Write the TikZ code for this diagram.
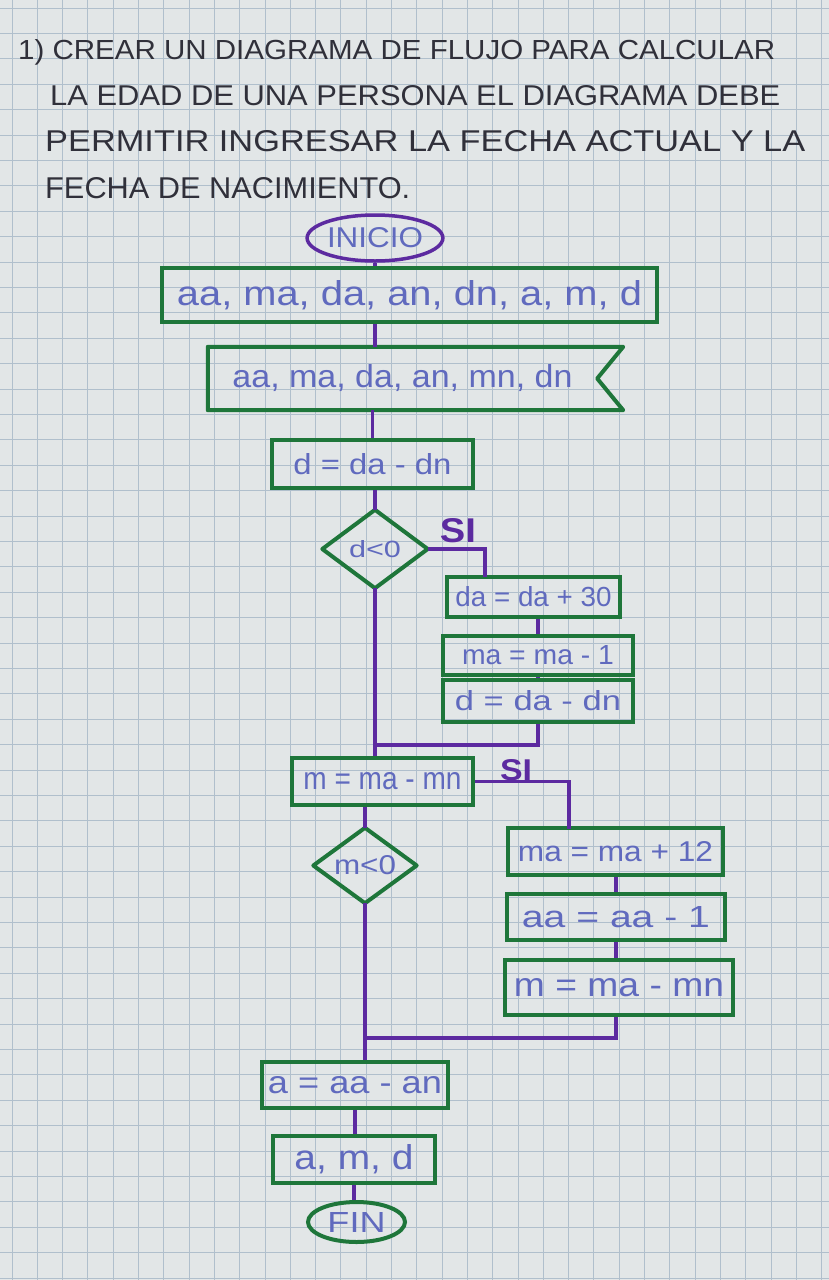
\documentclass[tikz,border=0pt]{standalone}
\usepackage{fontspec}
\setmainfont{Liberation Sans}
\usetikzlibrary{shapes.geometric}
\definecolor{paper}{RGB}{226,230,231}
\definecolor{gridc}{RGB}{176,191,204}
\definecolor{mkgreen}{RGB}{30,118,58}
\definecolor{mkpurple}{RGB}{92,42,160}
\definecolor{ink}{RGB}{96,106,190}
\definecolor{pencil}{RGB}{48,48,58}
\newcommand\fitbox[3]{\resizebox{#1pt}{#2pt}{#3}}
\tikzset{
  term/.style={ellipse, line width=3.5pt, inner sep=0pt, text=ink},
  box/.style={rectangle, draw=mkgreen, line width=4pt, inner sep=0pt, text=ink},
  ghost/.style={rectangle, inner sep=0pt, text=ink},
  shapeline/.style={draw=mkgreen, line width=4pt, line join=round},
  flow/.style={draw=mkpurple, line width=3.5pt},
  silabel/.style={text=mkpurple, inner sep=0pt, font=\bfseries},
  titleline/.style={text=pencil, inner sep=0pt, anchor=base west}
}
\begin{document}
\begin{tikzpicture}[x=1pt,y=-1pt]
\fill[paper] (0,0) rectangle (829,1280);
\useasboundingbox (0,0) rectangle (829,1280);
\foreach \i in {0,...,32} \draw[gridc, line width=0.9pt] (12+25.3*\i,0) -- (12+25.3*\i,1280);
\foreach \j in {0,...,50} \draw[gridc, line width=0.9pt] (0,8+25.4*\j) -- (829,8+25.4*\j);

% title
\node[titleline] (t1) at (18,59) {\fitbox{757}{20}{1) CREAR UN DIAGRAMA DE FLUJO PARA CALCULAR}};
\node[titleline] (t2) at (50,105) {\fitbox{730}{20}{LA EDAD DE UNA PERSONA EL DIAGRAMA DEBE}};
\node[titleline] (t3) at (45,151) {\fitbox{760}{21}{PERMITIR INGRESAR LA FECHA ACTUAL Y LA}};
\node[titleline] (t4) at (45,198) {\fitbox{365}{21}{FECHA DE NACIMIENTO.}};

% nodes
\node[term, draw=mkpurple, minimum width=135pt, minimum height=46pt] (inicio) at (375,238) {\fitbox{96}{20}{INICIO}};
\node[box, minimum width=495pt, minimum height=54pt] (b1) at (409.5,295) {\fitbox{465}{25}{aa, ma, da, an, dn, a, m, d}};
\node[ghost, minimum width=389pt, minimum height=63pt] (b2) at (402.5,378.5) {\fitbox{340}{23}{aa, ma, da, an, mn, dn}};
\draw[shapeline] (b2.north west) -- ([xshift=26pt]b2.north east) -- (b2.east) -- ([xshift=26pt]b2.south east) -- (b2.south west) -- cycle;
\node[box, minimum width=201pt, minimum height=48pt] (b3) at (372.5,464) {\fitbox{158}{21}{d = da - dn}};
\node[ghost, minimum width=105pt, minimum height=78pt] (d1) at (375,549) {\fitbox{52}{17}{d<0}};
\draw[shapeline] (d1.north) -- (d1.east) -- (d1.south) -- (d1.west) -- cycle;
\node[silabel] (si1) at (458,531) {\fitbox{36}{24}{SI}};
\node[box, minimum width=173pt, minimum height=40pt] (b4) at (533.5,597) {\fitbox{156}{20}{da = da + 30}};
\node[box, minimum width=190pt, minimum height=39pt] (b5) at (538,655.5) {\fitbox{152}{19}{ma = ma - 1}};
\node[box, minimum width=190pt, minimum height=42pt] (b6) at (538,701) {\fitbox{166}{20}{d = da - dn}};
\node[box, minimum width=181pt, minimum height=47pt] (b7) at (382.5,781.5) {\fitbox{158}{17}{m = ma - mn}};
\node[silabel] (si2) at (516,770) {\fitbox{32}{21}{SI}};
\node[box, minimum width=215pt, minimum height=47pt] (b8) at (615.5,851.5) {\fitbox{195}{20}{ma = ma + 12}};
\node[box, minimum width=218pt, minimum height=46pt] (b9) at (616,917) {\fitbox{188}{21}{aa = aa - 1}};
\node[box, minimum width=228pt, minimum height=55pt] (b10) at (619,987.5) {\fitbox{210}{18}{m = ma - mn}};
\node[ghost, minimum width=103pt, minimum height=75pt] (d2) at (365,865.5) {\fitbox{62}{19}{m<0}};
\draw[shapeline] (d2.north) -- (d2.east) -- (d2.south) -- (d2.west) -- cycle;
\node[box, minimum width=186pt, minimum height=46pt] (b11) at (355,1085) {\fitbox{174}{17}{a = aa - an}};
\node[box, minimum width=162pt, minimum height=47pt] (b12) at (354,1159.5) {\fitbox{119}{25}{a, m, d}};
\node[term, draw=mkgreen, line width=4pt, minimum width=97pt, minimum height=40pt] (fin) at (356.5,1222) {\fitbox{58}{20}{FIN}};

% junction points
\coordinate (j1) at (485,577);
\coordinate (m1) at (375,745);
\coordinate (j2) at (569,829);
\coordinate (m2) at (366,1038);

% connectors
\draw[flow] (inicio.south) -- (inicio.south |- b1.north);
\draw[flow] (inicio.south |- b1.south) -- (inicio.south |- b2.north);
\draw[flow] (b3.north |- b2.south) -- (b3.north);
\draw[flow] (d1.north |- b3.south) -- (d1.north);
\draw[flow] (d1.east) -| (j1);
\draw[flow] (b5.north |- b4.south) -- (b5.north);
\draw[flow] (b5.south) -- (b6.north);
\draw[flow] (b6.south) |- (m1);
\draw[flow] (d1.south) -- (m1) -- (m1 |- b7.north);
\draw[flow] (b7.east) -| (j2);
\draw[flow] (d2.north |- b7.south) -- (d2.north);
\draw[flow] (b9.north |- b8.south) -- (b9.north);
\draw[flow] (b9.south) -- (b9.south |- b10.north);
\draw[flow] (b9.south |- b10.south) |- (m2);
\draw[flow] (d2.south) -- (d2.south |- b11.north);
\draw[flow] (b11.south) -- (b11.south |- b12.north);
\draw[flow] (b12.south) -- (b12.south |- fin.north);
\end{tikzpicture}
\end{document}
